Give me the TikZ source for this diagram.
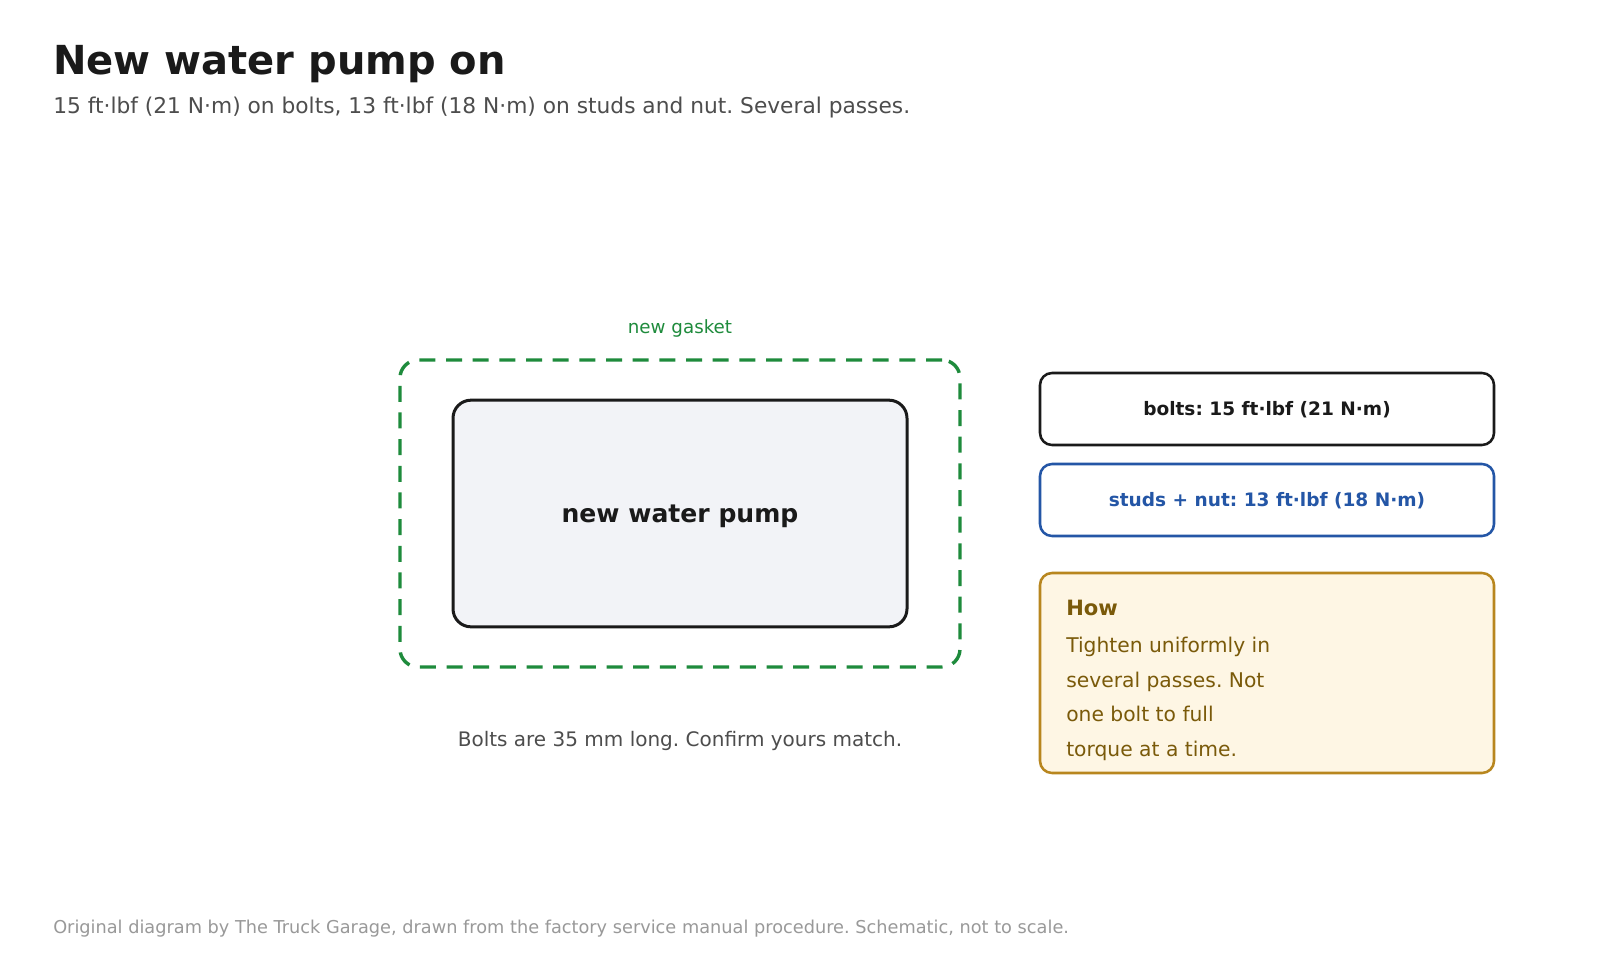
\documentclass[tikz,border=0pt]{standalone}
\usepackage{fontspec}
\setmainfont{DejaVu Sans}
\frenchspacing
\definecolor{ink}{HTML}{1A1A1A}
\definecolor{subgray}{HTML}{4D4D4D}
\definecolor{footgray}{HTML}{999999}
\definecolor{gasketgreen}{HTML}{1E8B3C}
\definecolor{pumpfill}{HTML}{F2F3F7}
\definecolor{studblue}{HTML}{2456A6}
\definecolor{howgold}{HTML}{B8861E}
\definecolor{howfill}{HTML}{FEF6E4}
\definecolor{howtext}{HTML}{7A5A0A}
\begin{document}
\begin{tikzpicture}[x=0.75pt,y=-0.75pt,
  spec/.style={draw, line width=1.9pt, rounded corners=9pt, minimum width=340.5pt, minimum height=54pt, inner sep=0pt},
  speclabel/.style={anchor=base, inner sep=0pt, font=\bfseries\fontsize{13.9}{16}\selectfont},
  howline/.style={anchor=base west, inner sep=0pt, text=howtext, font=\fontsize{15.2}{18}\selectfont}]
\useasboundingbox (0,0) rectangle (1600,960);
\fill[white] (0,0) rectangle (1600,960);
\node[anchor=base west, inner sep=0pt, text=ink, font=\bfseries\fontsize{30}{36}\selectfont] (title) at (53,74) {New water pump on};
\node[anchor=base west, inner sep=0pt, text=subgray, font=\fontsize{16.3}{20}\selectfont] (subtitle) at (53,113) {15 ft·lbf (21 N·m) on bolts, 13 ft·lbf (18 N·m) on studs and nut. Several passes.};
\node[draw=gasketgreen, line width=2.55pt, dash pattern=on 12pt off 8pt, rounded corners=13.5pt,
  minimum width=420pt, minimum height=230.25pt, inner sep=0pt] (gasket) at (680,513.5) {};
\node[anchor=base, inner sep=0pt, text=gasketgreen, font=\fontsize{13.7}{16}\selectfont] (gasketlabel) at (680,333) {new gasket};
\node[draw=ink, fill=pumpfill, line width=2.25pt, rounded corners=13.5pt,
  minimum width=340.5pt, minimum height=170pt, inner sep=0pt] (pump) at (680,513.5) {};
\node[anchor=base, inner sep=0pt, text=ink, font=\bfseries\fontsize{18.8}{22}\selectfont] (pumplabel) at (680,522.5) {new water pump};
\node[anchor=base, inner sep=0pt, text=subgray, font=\fontsize{15}{18}\selectfont] (note) at (680,746) {Bolts are 35 mm long. Confirm yours match.};
\node[spec, draw=ink] (bolts) at (1267,409) {};
\node[speclabel, text=ink] (boltslabel) at (1267,415.5) {bolts: 15 ft·lbf (21 N·m)};
\node[spec, draw=studblue] (studs) at (1267,500) {};
\node[speclabel, text=studblue] (studslabel) at (1267,506.5) {studs + nut: 13 ft·lbf (18 N·m)};
\node[draw=howgold, fill=howfill, line width=1.9pt, rounded corners=9pt, minimum width=340.5pt, minimum height=150pt, inner sep=0pt] (how) at (1267,673) {};
\node[anchor=base west, inner sep=0pt, text=howtext, font=\bfseries\fontsize{15.8}{18}\selectfont] (howtitle) at (1066,615) {How};
\node[howline] (l1) at (1066,652) {Tighten uniformly in};
\node[howline] (l2) at (1066,687) {several passes. Not};
\node[howline] (l3) at (1066,721) {one bolt to full};
\node[howline] (l4) at (1066,756) {torque at a time.};
\node[anchor=base west, inner sep=0pt, text=footgray, font=\fontsize{13.3}{16}\selectfont] (footer) at (53,933) {Original diagram by The Truck Garage, drawn from the factory service manual procedure. Schematic, not to scale.};
\end{tikzpicture}
\end{document}
